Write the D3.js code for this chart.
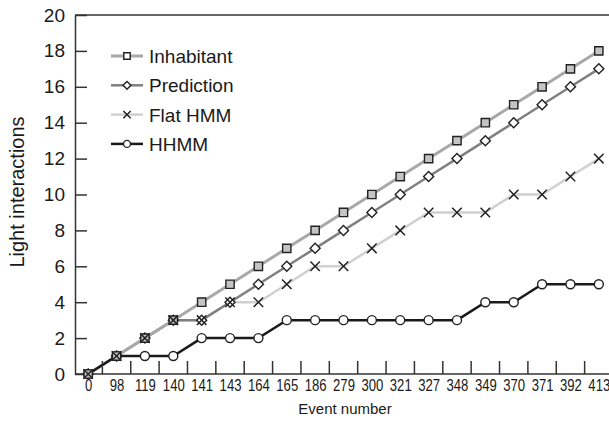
<html>
<head>
<meta charset="utf-8">
<title>Light interactions</title>
<style>
body { margin: 0; background: #fff; }
text { font-family: 'Liberation Sans', Arial, sans-serif; fill: #1a1a1a; }
</style>
</head>
<body>
<div id="chart"></div>
<script src="https://d3js.org/d3.v7.min.js"></script>
<script>

// event numbers on the x axis
var events = ["0", "98", "119", "140", "141", "143", "164", "165", "186", "279",
              "300", "321", "327", "348", "349", "370", "371", "392", "413"];

var inhabitant = [0, 1, 2, 3, 4, 5, 6, 7, 8, 9, 10, 11, 12, 13, 14, 15, 16, 17, 18];
var prediction = [0, 1, 2, 3, 3, 4, 5, 6, 7, 8, 9, 10, 11, 12, 13, 14, 15, 16, 17];
var flatHmm    = [0, 1, 2, 3, 3, 4, 4, 5, 6, 6, 7, 8, 9, 9, 9, 10, 10, 11, 12];
var hhmm       = [0, 1, 1, 1, 2, 2, 2, 3, 3, 3, 3, 3, 3, 3, 4, 4, 5, 5, 5];

var yTicks = [0, 2, 4, 6, 8, 10, 12, 14, 16, 18, 20];

var series = [
  {name: "Inhabitant", values: inhabitant, color: "#a8a8a8", width: 3,   marker: "square"},
  {name: "Prediction", values: prediction, color: "#808080", width: 2.5, marker: "diamond"},
  {name: "Flat HMM",   values: flatHmm,    color: "#d0d0d0", width: 2.5, marker: "x"},
  {name: "HHMM",       values: hhmm,       color: "#1a1a1a", width: 2.5, marker: "circle"}
];

var W = 609, H = 421;
var mLeft = 75, mTop = 15, mBottom = 374;

var svg = d3.select("#chart").append("svg")
  .attr("width", W).attr("height", H);

var xBand = d3.scaleBand().domain(events).range([74, 613]);
var x = d3.scalePoint().domain(events).range([74, 613]).padding(0.5);
var y = d3.scaleLinear().domain([0, 20]).range([mBottom, mTop]);

// top border
svg.append("line")
  .attr("x1", mLeft).attr("x2", W).attr("y1", mTop).attr("y2", mTop)
  .attr("stroke", "#333").attr("stroke-width", 1.5);

// y axis
var yAxis = svg.append("g")
  .attr("transform", "translate(" + mLeft + ",0)")
  .call(d3.axisLeft(y).tickValues(yTicks).tickSizeInner(-12).tickSizeOuter(0).tickPadding(10));
yAxis.select(".domain").attr("stroke", "#333").attr("stroke-width", 1.5);
yAxis.selectAll(".tick line").attr("stroke", "#333").attr("stroke-width", 1.5);
yAxis.selectAll("text").attr("font-size", 19).attr("fill", "#1a1a1a")
  .attr("font-family", "'Liberation Sans', Arial, sans-serif");

// x axis: labels at the points, ticks at the band edges
var xAxis = svg.append("g")
  .attr("transform", "translate(0," + mBottom + ")")
  .call(d3.axisBottom(x).tickSize(0).tickPadding(6));
xAxis.select(".domain").remove();
svg.append("line")
  .attr("x1", mLeft).attr("x2", W).attr("y1", mBottom).attr("y2", mBottom)
  .attr("stroke", "#333").attr("stroke-width", 1.5);
xAxis.selectAll("text").attr("font-size", 16).attr("fill", "#1a1a1a")
  .attr("transform", "scale(0.82,1)")
  .attr("font-family", "'Liberation Sans', Arial, sans-serif");

svg.append("g").selectAll("line")
  .data(events.slice(1))
  .enter().append("line")
  .attr("x1", function(d) { return xBand(d); })
  .attr("x2", function(d) { return xBand(d); })
  .attr("y1", mBottom).attr("y2", mBottom - 13)
  .attr("stroke", "#333").attr("stroke-width", 1.5);

// axis titles
svg.append("text")
  .attr("x", 345).attr("y", 414)
  .attr("text-anchor", "middle").attr("font-size", 15)
  .text("Event number");

svg.append("text")
  .attr("transform", "translate(24,192) rotate(-90)")
  .attr("text-anchor", "middle").attr("font-size", 20)
  .text("Light interactions");

// markers
function drawMarker(g, type, size, fill) {
  if (type === "circle") {
    g.append("circle").attr("r", size * 0.5)
      .attr("fill", "#fff").attr("stroke", "#222").attr("stroke-width", 1.4);
  } else if (type === "square") {
    g.append("path").attr("d", d3.symbol(d3.symbolSquare, size * size * 0.85)())
      .attr("fill", fill).attr("stroke", "#222").attr("stroke-width", 1.4);
  } else if (type === "diamond") {
    g.append("path").attr("d", d3.symbol(d3.symbolSquare, size * size * 0.62)())
      .attr("transform", "rotate(45)")
      .attr("fill", "#fff").attr("stroke", "#222").attr("stroke-width", 1.4);
  } else {
    g.append("path").attr("d", d3.symbol(d3.symbolX, size * size * 0.75)())
      .attr("fill", "none").attr("stroke", "#222").attr("stroke-width", 1.5);
  }
}

var line = d3.line()
  .x(function(d, i) { return x(events[i]); })
  .y(function(d) { return y(d); });

// lines first
["Flat HMM", "Prediction", "Inhabitant", "HHMM"].forEach(function(n) {
  var s = series.find(function(t) { return t.name === n; });
  svg.append("path")
    .datum(s.values)
    .attr("d", line)
    .attr("fill", "none")
    .attr("stroke", s.color)
    .attr("stroke-width", s.width);
});

// then markers
["HHMM", "Prediction", "Inhabitant", "Flat HMM"].forEach(function(n) {
  var s = series.find(function(t) { return t.name === n; });
  s.values.forEach(function(v, i) {
    var g = svg.append("g")
      .attr("transform", "translate(" + x(events[i]) + "," + y(v) + ")");
    drawMarker(g, s.marker, 9, "#c4c4c4");
  });
});

// legend
var legend = svg.append("g").selectAll("g")
  .data(series)
  .enter().append("g")
  .attr("transform", function(d, i) { return "translate(111," + (56 + i * 29.3) + ")"; });

legend.append("line")
  .attr("x1", 0).attr("x2", 32)
  .attr("stroke", function(d) { return d.color; })
  .attr("stroke-width", function(d) { return d.width; });

legend.each(function(d) {
  var g = d3.select(this).append("g").attr("transform", "translate(16,0)");
  drawMarker(g, d.marker, 7, "#fff");
});

legend.append("text")
  .attr("x", 38).attr("y", 7)
  .attr("font-size", 19)
  .text(function(d) { return d.name; });

</script>
</body>
</html>
